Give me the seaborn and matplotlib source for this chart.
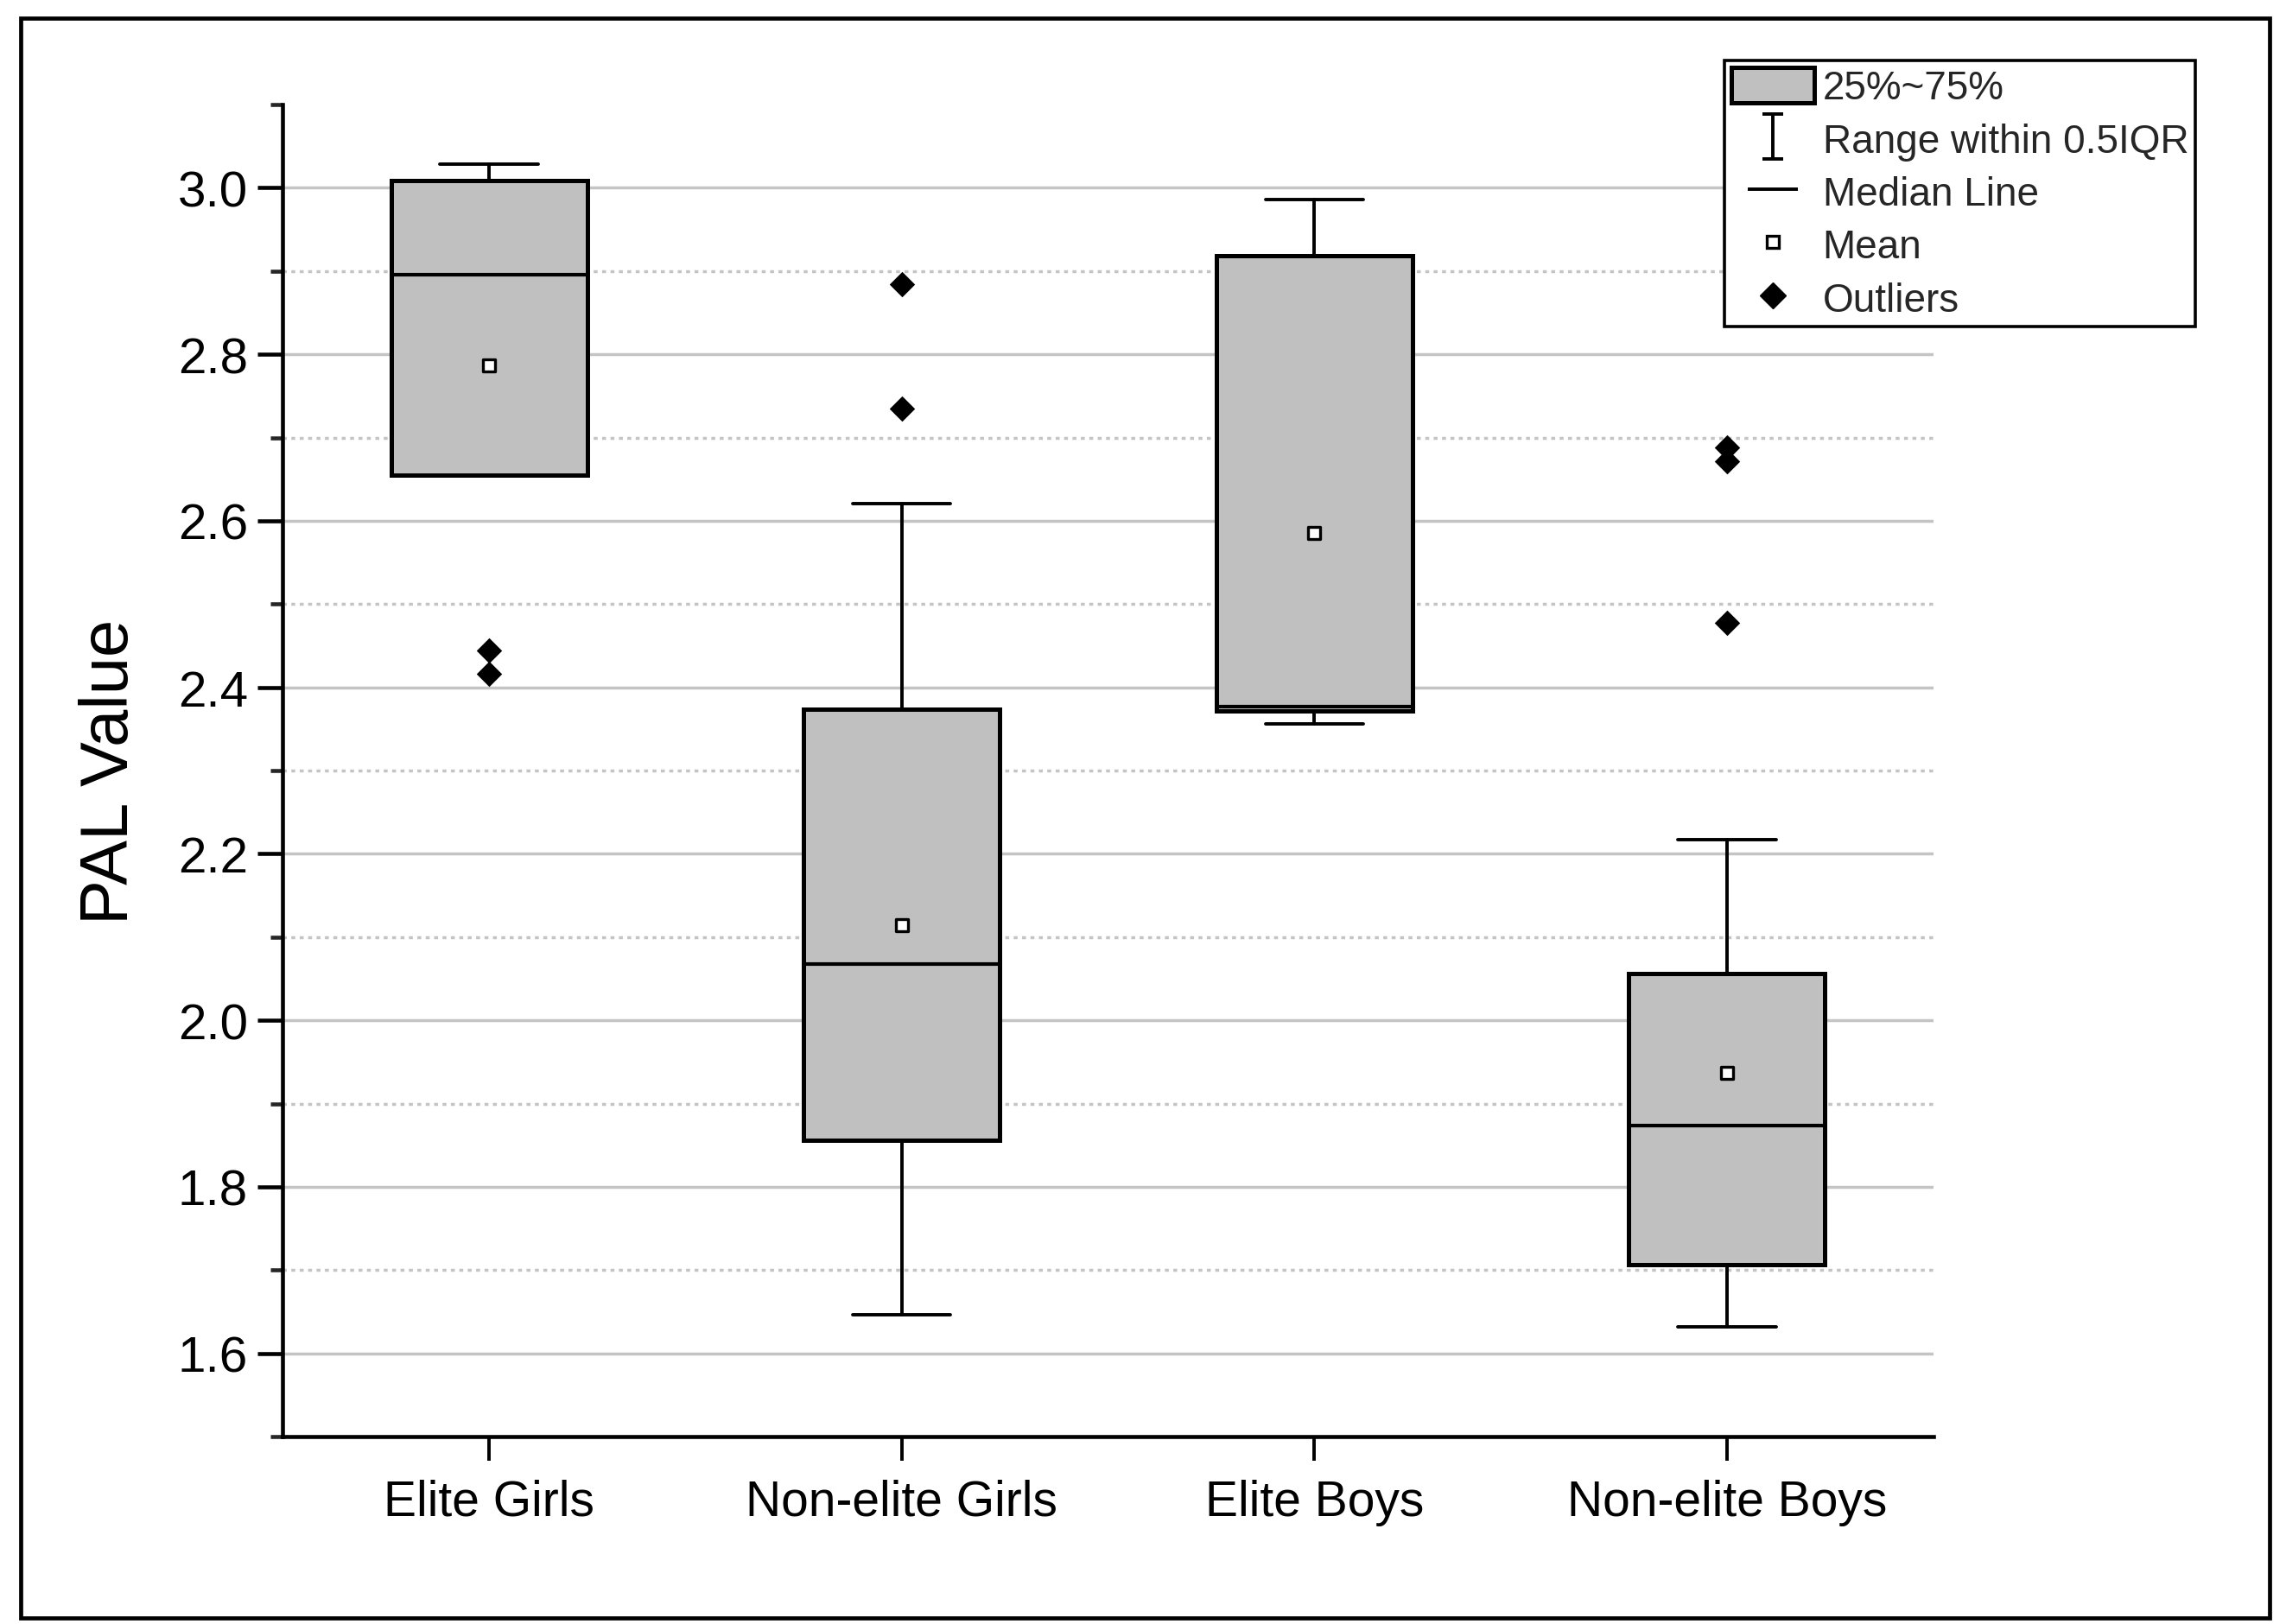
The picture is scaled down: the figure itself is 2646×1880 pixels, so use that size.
import numpy as np
import matplotlib
matplotlib.use('Agg')
import matplotlib.pyplot as plt
from matplotlib.patches import Patch, Rectangle
from matplotlib.lines import Line2D
from matplotlib.path import Path
from matplotlib.ticker import FixedLocator
import seaborn as sns

# values
groups = ['Elite Girls', 'Non-elite Girls', 'Elite Boys', 'Non-elite Boys']
q1 = [2.655, 1.856, 2.372, 1.707]
median = [2.896, 2.068, 2.377, 1.874]
q3 = [3.009, 2.374, 2.919, 2.056]
whisker_low = [2.655, 1.646, 2.356, 1.632]
whisker_high = [3.029, 2.621, 2.986, 2.217]
means = [2.787, 2.114, 2.585, 1.937]

outlier_groups = ['Elite Girls', 'Elite Girls', 'Non-elite Girls', 'Non-elite Girls',
                  'Non-elite Boys', 'Non-elite Boys', 'Non-elite Boys']
outlier_values = [2.444, 2.416, 2.884, 2.735, 2.688, 2.672, 2.478]

major_ticks = [1.6, 1.8, 2.0, 2.2, 2.4, 2.6, 2.8, 3.0]
minor_ticks = [1.5, 1.7, 1.9, 2.1, 2.3, 2.5, 2.7, 2.9, 3.1]

sns.set_style('white')
plt.rcParams['font.family'] = ['Liberation Sans', 'DejaVu Sans']

box_color = '#c0c0c0'
grid_color = '#c4c4c4'

fig = plt.figure(figsize=(26.46, 18.81), dpi=100)
ax = fig.add_axes([0.1237, 0.1153, 0.722, 0.8198])

# boxes from the summary stats
stats = []
for i, g in enumerate(groups):
    stats.append(dict(label=g, q1=q1[i], med=median[i], q3=q3[i],
                      whislo=whisker_low[i], whishi=whisker_high[i], fliers=[]))
ax.bxp(stats, positions=range(len(groups)), widths=0.475, patch_artist=True,
       showfliers=False, manage_ticks=False,
       boxprops=dict(facecolor=box_color, edgecolor='black', linewidth=3.6),
       medianprops=dict(color='black', linewidth=3.0),
       whiskerprops=dict(color='black', linewidth=2.8),
       capprops=dict(color='black', linewidth=2.8))

# mean markers and outliers
sns.stripplot(x=groups, y=means, order=groups, jitter=False, marker='s', size=10,
              color='white', edgecolor='black', linewidth=2.4, ax=ax, zorder=6)
sns.stripplot(x=outlier_groups, y=outlier_values, order=groups, jitter=False,
              marker='D', size=15, color='black', linewidth=0, ax=ax, zorder=6)

ax.set_xlim(-0.5, 3.5)
ax.set_ylim(1.5, 3.1)
ax.set_xticks(range(len(groups)))
ax.set_xticklabels(groups)
ax.set_xlabel('')
ax.yaxis.set_major_locator(FixedLocator(major_ticks))
ax.yaxis.set_minor_locator(FixedLocator(minor_ticks))
ax.set_yticklabels(['%.1f' % t for t in major_ticks])

ax.set_axisbelow(True)
ax.yaxis.grid(True, which='major', color=grid_color, linewidth=2.5, linestyle='-')
ax.yaxis.grid(True, which='minor', color=grid_color, linewidth=2.5, linestyle=(0, (1.3, 1.5)))
for t, tk in zip(minor_ticks, ax.yaxis.get_minor_ticks()):
    if t >= 3.05 or t <= 1.55:
        tk.gridline.set_visible(False)

for s in ['top', 'right']:
    ax.spines[s].set_visible(False)
for s in ['left', 'bottom']:
    ax.spines[s].set_color('black')
    ax.spines[s].set_linewidth(3.3)

ax.tick_params(axis='y', which='major', left=True, direction='out', length=21, width=3.3,
               labelsize=42, pad=8, colors='black')
ax.tick_params(axis='y', which='minor', left=True, direction='out', length=10, width=3.3)
ax.tick_params(axis='x', which='major', bottom=True, direction='out', length=20, width=2.8,
               labelsize=41, pad=15, colors='black')

ax.set_ylabel('PAL Value', fontsize=56, labelpad=30, color='black')

# legend
ibeam = Path([(-0.45, 1), (0.45, 1), (0, 1), (0, -1), (-0.45, -1), (0.45, -1)],
             [Path.MOVETO, Path.LINETO, Path.MOVETO, Path.LINETO, Path.MOVETO, Path.LINETO])
handles = [
    Patch(facecolor=box_color, edgecolor='black', linewidth=3.6),
    Line2D([], [], linestyle='none', marker=ibeam, markersize=38, markeredgewidth=2.8,
           color='black', markerfacecolor='none'),
    Line2D([], [], linestyle='none', marker='_', markersize=42, markeredgewidth=2.8, color='black'),
    Line2D([], [], linestyle='none', marker='s', markersize=10, markerfacecolor='white',
           markeredgecolor='black', markeredgewidth=2.4),
    Line2D([], [], linestyle='none', marker='D', markersize=15, color='black'),
]
labels = ['25%~75%', 'Range within 0.5IQR', 'Median Line', 'Mean', 'Outliers']
leg = fig.legend(handles, labels, loc='upper left', bbox_to_anchor=(0.7543, 0.9623),
                 frameon=True, fancybox=False, framealpha=1, edgecolor='black',
                 fontsize=33, handlelength=2.1, handleheight=1.0, handletextpad=0.2,
                 labelspacing=0.33, borderpad=0.18, borderaxespad=0)
leg.get_frame().set_linewidth(2.6)

# outer frame
fig.add_artist(Rectangle((0.0089, 0.0036), 0.9841, 0.9847, transform=fig.transFigure,
                         fill=False, edgecolor='black', linewidth=3.4))

fig.savefig('out.png', dpi=100)
